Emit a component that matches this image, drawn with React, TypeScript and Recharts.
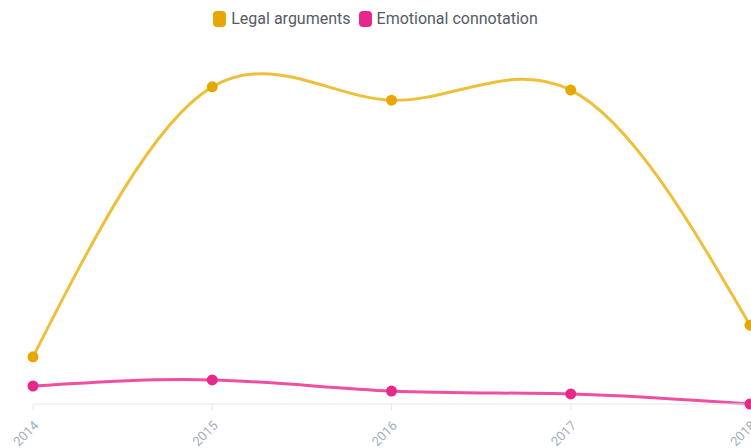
import { LineChart, Line, XAxis, YAxis } from 'recharts';

const years = ['2014', '2015', '2016', '2017', '2018'];
const legalArguments = [13.1, 88.1, 84.4, 87.2, 21.9];
const emotionalConnotation = [5.0, 6.7, 3.6, 2.8, 0];

const series = [
  { key: 'legal', name: 'Legal arguments', line: '#EEC03A', dot: '#E6A800' },
  { key: 'emotional', name: 'Emotional connotation', line: '#EF4FA2', dot: '#E6288A' },
];

const data = years.map((year, i) => ({
  year,
  legal: legalArguments[i],
  emotional: emotionalConnotation[i],
}));

const TiltedTick = (props: any) => {
  const { x, y, payload } = props;
  return (
    <g transform={`translate(${x},${y + 8})`}>
      <text
        transform="rotate(-45)"
        textAnchor="end"
        dy={9}
        fill="#A3AEBD"
        fontSize={13}
        fontFamily="Roboto, sans-serif"
      >
        {payload.value}
      </text>
    </g>
  );
};

export default function App() {
  return (
    <div style={{ position: 'absolute', left: 0, top: 0, width: 751, height: 448, background: '#fff', overflow: 'hidden' }}>
      <div
        style={{
          position: 'absolute',
          top: 9,
          left: 0,
          width: 751,
          display: 'flex',
          justifyContent: 'center',
          gap: 8,
          fontFamily: 'Roboto, sans-serif',
          fontSize: 16,
          lineHeight: '20px',
          color: '#555a66',
        }}
      >
        {series.map((s) => (
          <span key={s.key} style={{ display: 'flex', alignItems: 'center', gap: 5 }}>
            <span style={{ width: 13, height: 16, borderRadius: 4, background: s.dot, display: 'inline-block' }} />
            {s.name}
          </span>
        ))}
      </div>
      <LineChart width={751} height={448} data={data} margin={{ top: 44, right: 1, left: 33, bottom: 0 }}>
        <XAxis
          dataKey="year"
          height={44}
          interval={0}
          axisLine={{ stroke: '#E6E6E6' }}
          tickLine={{ stroke: '#E6E6E6' }}
          tickSize={6}
          tick={<TiltedTick />}
        />
        <YAxis hide domain={[0, 100]} />
        {series.map((s) => (
          <Line
            key={s.key}
            dataKey={s.key}
            name={s.name}
            type="natural"
            stroke={s.line}
            strokeWidth={3}
            dot={{ r: 5.5, fill: s.dot, stroke: s.dot, strokeWidth: 0 }}
            activeDot={false}
            isAnimationActive={false}
          />
        ))}
      </LineChart>
    </div>
  );
}
